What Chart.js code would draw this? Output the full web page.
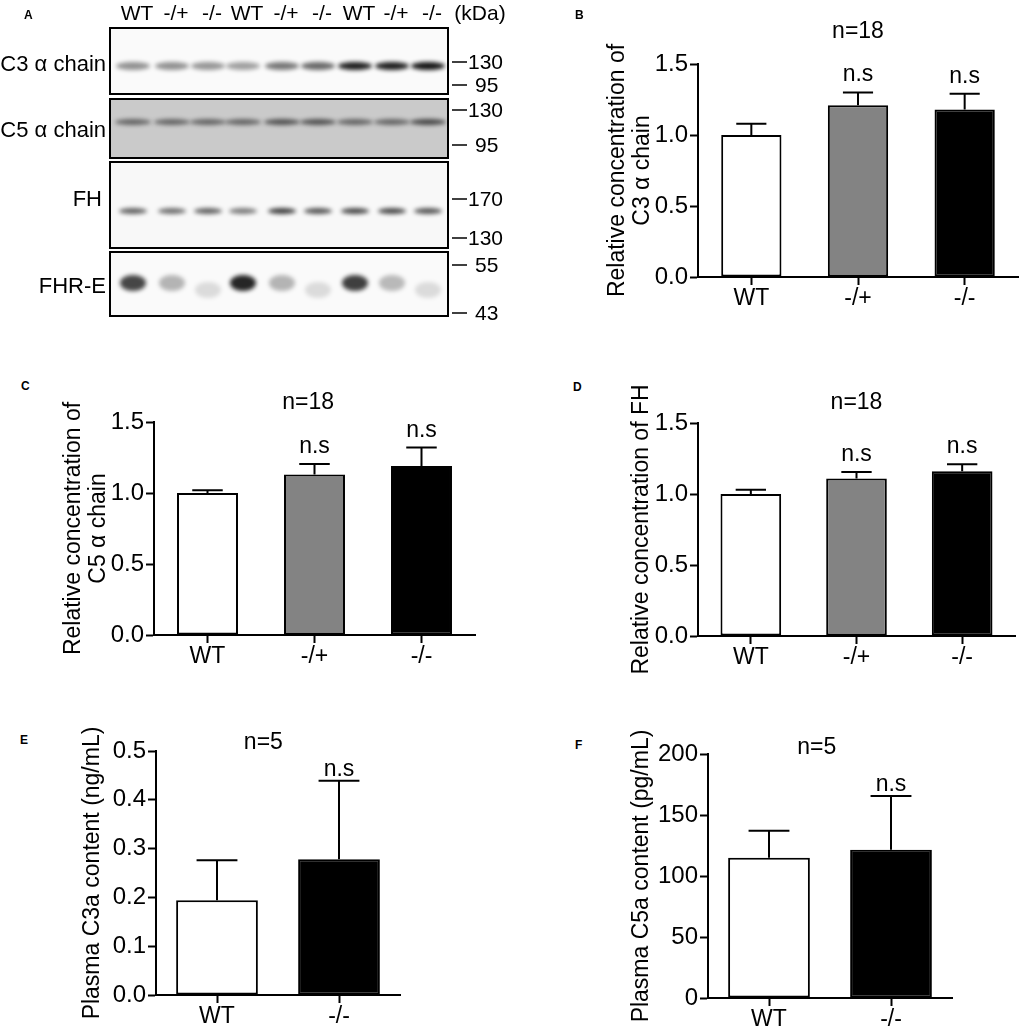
<!DOCTYPE html>
<html>
<head>
<meta charset="utf-8">
<script src="https://cdn.jsdelivr.net/npm/chart.js@4.4.1/dist/chart.umd.min.js"></script>
<style>
  body { margin: 0; background: #fff; }
  #fig { position: relative; width: 1022px; height: 1030px; overflow: hidden; font-family: 'Liberation Sans', Arial, sans-serif; }
  .box { position: absolute; }
  .tag { position: absolute; font-weight: bold; font-size: 12px; line-height: 1; }
</style>
</head>
<body>
<div id="fig">
  <canvas id="blot" width="560" height="330" style="position:absolute;left:0;top:0"></canvas>
  <div class="tag" style="left:24px;top:9px">A</div>
  <div class="tag" style="left:575px;top:9px">B</div>
  <div class="tag" style="left:21px;top:380px">C</div>
  <div class="tag" style="left:573px;top:381px">D</div>
  <div class="tag" style="left:20px;top:734px">E</div>
  <div class="tag" style="left:575px;top:739px">F</div>

  <div class="box" style="left:605px;top:0;width:417px;height:320px"><canvas id="chartB"></canvas></div>
  <div class="box" style="left:61px;top:340px;width:420px;height:340px"><canvas id="chartC"></canvas></div>
  <div class="box" style="left:629px;top:340px;width:393px;height:340px"><canvas id="chartD"></canvas></div>
  <div class="box" style="left:80px;top:680px;width:330px;height:350px"><canvas id="chartE"></canvas></div>
  <div class="box" style="left:629px;top:680px;width:393px;height:350px"><canvas id="chartF"></canvas></div>
</div>

<script>
// ---- data ----
const groups3 = ['WT', '-/+', '-/-'];
const groups2 = ['WT', '-/-'];
const fills3 = ['#ffffff', '#838383', '#000000'];
const fills2 = ['#ffffff', '#000000'];
const sig3 = ['', 'n.s', 'n.s'];
const sig2 = ['', 'n.s'];

const c3Means = [1.00, 1.21, 1.18];
const c3Errs = [0.08, 0.09, 0.11];
const c5Means = [1.00, 1.13, 1.19];
const c5Errs = [0.02, 0.075, 0.13];
const fhMeans = [1.00, 1.11, 1.16];
const fhErrs = [0.03, 0.045, 0.05];
const c3aMeans = [0.194, 0.278];
const c3aErrs = [0.082, 0.161];
const c5aMeans = [115, 121.5];
const c5aErrs = [22, 44];

const relTicks = [0, 0.5, 1.0, 1.5];
const c3aTicks = [0, 0.1, 0.2, 0.3, 0.4, 0.5];
const c5aTicks = [0, 50, 100, 150, 200];

// blot lanes and rough band strengths (illustration only)
const lanes = ['WT', '-/+', '-/-', 'WT', '-/+', '-/-', 'WT', '-/+', '-/-'];
const c3Bands = [0.42, 0.42, 0.4, 0.36, 0.52, 0.58, 0.88, 0.88, 0.92];
const c5Bands = [0.5, 0.5, 0.5, 0.5, 0.6, 0.6, 0.5, 0.5, 0.65];
const fhBands = [0.6, 0.55, 0.6, 0.5, 0.75, 0.65, 0.7, 0.7, 0.65];
const fhreBands = [0.72, 0.28, 0.12, 0.85, 0.28, 0.12, 0.75, 0.26, 0.12];

const FONT = "'Liberation Sans', Arial, sans-serif";
Chart.defaults.font.family = FONT;
Chart.defaults.color = '#000';

// ---- western blot (panel A) ----
function drawBlot() {
  const ctx = document.getElementById('blot').getContext('2d');
  const laneX = [133, 172, 208, 243, 282, 318, 355, 392, 428];
  const x0 = 110, x1 = 448;
  const rows = [
    { name: 'C3 α chain', y0: 28, y1: 94, ly: 65, bg: '#fafafa', band: 66, h: 8, w: 34, vals: c3Bands, marks: [[62, '130'], [85, '95']] },
    { name: 'C5 α chain', y0: 99, y1: 158, ly: 131, bg: '#cacaca', band: 122, h: 6, w: 36, vals: c5Bands, marks: [[110, '130'], [145, '95']] },
    { name: 'FH', y0: 162, y1: 248, ly: 200, bg: '#f8f8f8', band: 211, h: 6, w: 28, vals: fhBands, marks: [[199, '170'], [238, '130']] },
    { name: 'FHR-E', y0: 252, y1: 316, ly: 287, bg: '#fafafa', band: 283, h: 16, w: 26, vals: fhreBands, marks: [[265, '55'], [313, '43']] }
  ];

  ctx.fillStyle = '#000';
  ctx.font = '21px ' + FONT;
  ctx.textAlign = 'center';
  ctx.textBaseline = 'middle';
  lanes.forEach((l, i) => ctx.fillText(l, laneX[i] + 4, 14));
  ctx.fillText('(kDa)', 480, 14);

  rows.forEach(r => {
    ctx.fillStyle = r.bg;
    ctx.fillRect(x0, r.y0, x1 - x0, r.y1 - r.y0);
    ctx.save();
    ctx.beginPath();
    ctx.rect(x0, r.y0, x1 - x0, r.y1 - r.y0);
    ctx.clip();
    ctx.filter = 'blur(2px)';
    r.vals.forEach((v, i) => {
      let yy = r.band;
      if (r.name === 'FHR-E' && v < 0.2) yy += 7;
      ctx.fillStyle = 'rgba(0,0,0,' + v + ')';
      ctx.beginPath();
      ctx.ellipse(laneX[i], yy, r.w / 2, r.h / 2, 0, 0, Math.PI * 2);
      ctx.fill();
    });
    ctx.restore();
    ctx.strokeStyle = '#000';
    ctx.lineWidth = 2;
    ctx.strokeRect(x0, r.y0, x1 - x0, r.y1 - r.y0);

    ctx.fillStyle = '#000';
    ctx.font = '22px ' + FONT;
    ctx.textAlign = 'right';
    ctx.fillText(r.name, r.name === 'FH' ? 102 : 106, r.ly);

    ctx.font = '21px ' + FONT;
    ctx.textAlign = 'left';
    r.marks.forEach(([y, t]) => {
      ctx.beginPath();
      ctx.moveTo(452, y);
      ctx.lineTo(467, y);
      ctx.lineWidth = 1.5;
      ctx.stroke();
      ctx.fillText(t, t.length === 2 ? 475 : 468, y + 1);
    });
  });
}
drawBlot();

// ---- bar charts ----
const errorBars = {
  id: 'errorBars',
  afterDatasetsDraw(chart, args, opts) {
    const ds = chart.data.datasets[0];
    const meta = chart.getDatasetMeta(0);
    const y = chart.scales.y;
    const area = chart.chartArea;
    const ctx = chart.ctx;
    ctx.save();
    ctx.strokeStyle = '#000';
    ctx.lineWidth = 2;
    ctx.fillStyle = '#000';
    ctx.font = '23px ' + FONT;
    ctx.textAlign = 'center';
    meta.data.forEach((bar, i) => {
      const top = y.getPixelForValue(ds.data[i] + ds.errors[i]);
      const half = bar.width / 4;
      ctx.beginPath();
      ctx.moveTo(bar.x, bar.y);
      ctx.lineTo(bar.x, top);
      ctx.moveTo(bar.x - half, top);
      ctx.lineTo(bar.x + half, top);
      ctx.stroke();
      if (ds.sig[i]) {
        ctx.textBaseline = 'alphabetic';
        ctx.fillText(ds.sig[i], bar.x, top - opts.nsOff);
      }
    });
    ctx.textBaseline = 'middle';
    ctx.fillText(opts.nText, area.left + opts.nFrac * (area.right - area.left), area.top - opts.nOff);
    ctx.restore();
  }
};

function barChart(id, labels, means, errs, sig, fills, o) {
  return new Chart(document.getElementById(id), {
    type: 'bar',
    data: {
      labels: labels,
      datasets: [{
        data: means,
        errors: errs,
        sig: sig,
        backgroundColor: fills,
        borderColor: '#000',
        borderWidth: 2,
        borderSkipped: false,
        barPercentage: o.barPct,
        categoryPercentage: 1
      }]
    },
    options: {
      responsive: true,
      maintainAspectRatio: false,
      animation: false,
      layout: { padding: o.pad },
      plugins: {
        legend: { display: false },
        tooltip: { enabled: false },
        errorBars: { nText: o.nText, nFrac: o.nFrac, nOff: o.nOff, nsOff: o.nsOff }
      },
      scales: {
        x: {
          grid: { display: true, drawOnChartArea: false, offset: false, tickLength: 8, tickWidth: 2, tickColor: '#000' },
          border: { display: true, color: '#000', width: 2 },
          ticks: { font: { size: 23 }, padding: 0, maxRotation: 0 },
          afterFit: s => { s.height = o.xH; }
        },
        y: {
          min: o.ticks[0],
          max: o.ticks[o.ticks.length - 1],
          afterBuildTicks: s => { s.ticks = o.ticks.map(v => ({ value: v })); },
          grid: { display: true, drawOnChartArea: false, tickLength: 8, tickWidth: 2, tickColor: '#000' },
          border: { display: true, color: '#000', width: 2 },
          ticks: { font: { size: 24 }, padding: 2, callback: v => v.toFixed(o.dec) },
          title: { display: true, text: o.title, font: { size: 23, lineHeight: 1.1 }, padding: 0 },
          afterFit: s => { s.width = o.yW; }
        }
      }
    },
    plugins: [errorBars]
  });
}

barChart('chartB', groups3, c3Means, c3Errs, sig3, fills3, {
  ticks: relTicks, dec: 1, title: ['Relative concentration of', 'C3 α chain'],
  yW: 93, xH: 40, pad: { left: 0, right: 4, top: 64, bottom: 3 },
  barPct: 0.565, nText: 'n=18', nFrac: 0.5, nOff: 32, nsOff: 11
});
barChart('chartC', groups3, c5Means, c5Errs, sig3, fills3, {
  ticks: relTicks, dec: 1, title: ['Relative concentration of', 'C5 α chain'],
  yW: 93, xH: 40, pad: { left: 0, right: 6, top: 82, bottom: 5 },
  barPct: 0.57, nText: 'n=18', nFrac: 0.48, nOff: 19, nsOff: 11
});
barChart('chartD', groups3, fhMeans, fhErrs, sig3, fills3, {
  ticks: relTicks, dec: 1, title: 'Relative concentration of FH',
  yW: 69, xH: 40, pad: { left: 0, right: 7, top: 83, bottom: 4 },
  barPct: 0.574, nText: 'n=18', nFrac: 0.5, nOff: 20, nsOff: 11
});
barChart('chartE', groups2, c3aMeans, c3aErrs, sig2, fills2, {
  ticks: c3aTicks, dec: 1, title: 'Plasma C3a content (ng/mL)',
  yW: 76, xH: 34, pad: { left: 0, right: 10, top: 71, bottom: 1 },
  barPct: 0.67, nText: 'n=5', nFrac: 0.44, nOff: 8, nsOff: 5
});
barChart('chartF', groups2, c5aMeans, c5aErrs, sig2, fills2, {
  ticks: c5aTicks, dec: 0, title: 'Plasma C5a content (pg/mL)',
  yW: 79, xH: 32, pad: { left: 0, right: 70, top: 74, bottom: 0 },
  barPct: 0.67, nText: 'n=5', nFrac: 0.446, nOff: 6, nsOff: 5
});
</script>
</body>
</html>
